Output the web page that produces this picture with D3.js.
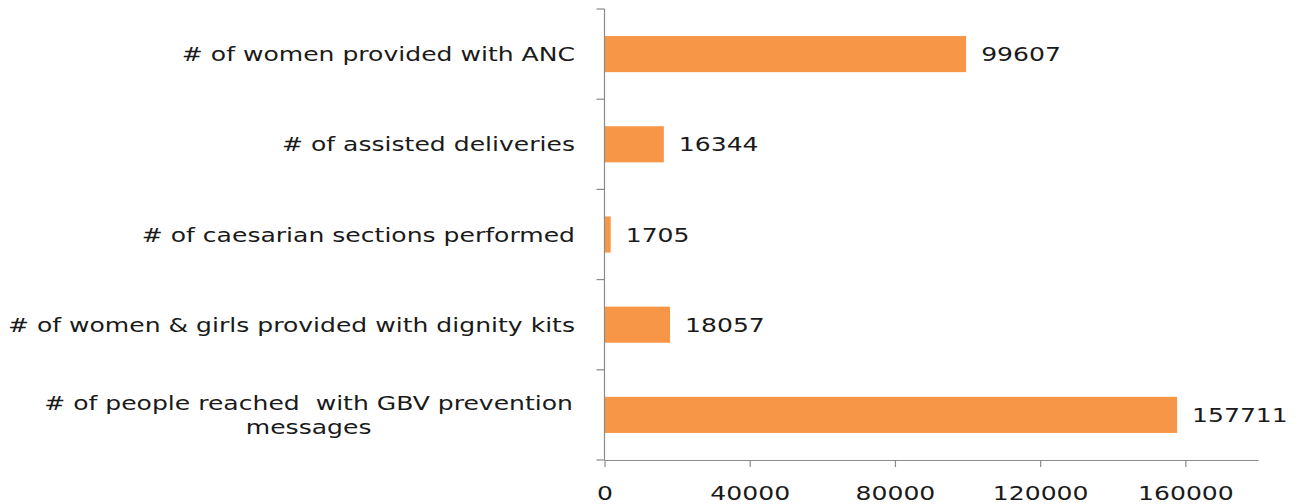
<!DOCTYPE html>
<html>
<head>
<meta charset="utf-8">
<script src="https://cdn.jsdelivr.net/npm/d3@7"></script>
<style>
  html, body { margin: 0; padding: 0; background: #fff; }
  svg { display: block; }
  text { font-family: "DejaVu Sans", sans-serif; fill: #1a1a1a; white-space: pre; }
</style>
</head>
<body>
<svg id="chart" width="1302" height="504"></svg>
<script>
const categories = [
  "# of women provided with ANC",
  "# of assisted deliveries",
  "# of caesarian sections performed",
  "# of women & girls provided with dignity kits",
  "# of people reached  with GBV prevention messages"
];
const categoryLines = [
  ["# of women provided with ANC"],
  ["# of assisted deliveries"],
  ["# of caesarian sections performed"],
  ["# of women & girls provided with dignity kits"],
  ["# of people reached  with GBV prevention", "messages"]
];
const values = [99607, 16344, 1705, 18057, 157711];
const xTicks = [0, 40000, 80000, 120000, 160000];
const xMax = 180000;

(function () {
const svg = d3.select("#chart");
const plotLeft = 604.5, plotRight = 1258, plotTop = 9, plotBottom = 460;
const sx = 1.32;        // horizontal stretch of the text
const fontSize = 19;
const axisColor = "#8a8a8a";
const barColor = "#F79646";

const x = d3.scaleLinear().domain([0, xMax]).range([plotLeft, plotRight]);
const y = d3.scaleBand().domain(categories).range([plotTop, plotBottom])
  .paddingInner(0.6).paddingOuter(0.3);
const step = y.step();

// bars
svg.append("g").selectAll("rect")
  .data(categories)
  .join("rect")
  .attr("x", x(0))
  .attr("y", d => y(d))
  .attr("width", (d, i) => x(values[i]) - x(0))
  .attr("height", y.bandwidth())
  .attr("fill", barColor);

// x axis
const xAxis = svg.append("g")
  .attr("transform", `translate(0,${plotBottom})`)
  .call(d3.axisBottom(x).tickValues(xTicks).tickSize(7).tickSizeOuter(0).tickFormat(d3.format("d")).tickPadding(0));
xAxis.select(".domain").attr("stroke", axisColor).attr("stroke-width", 1.2);
xAxis.selectAll(".tick line").attr("stroke", axisColor).attr("stroke-width", 1.2);
xAxis.selectAll(".tick text")
  .attr("y", 40)
  .attr("dy", 0)
  .attr("font-size", fontSize)
  .attr("font-family", "DejaVu Sans, sans-serif")
  .attr("fill", "#1a1a1a")
  .attr("transform", `scale(${sx},1)`);

// y axis line and band-boundary ticks
const yAxis = svg.append("g");
yAxis.append("line")
  .attr("x1", plotLeft).attr("x2", plotLeft)
  .attr("y1", plotTop).attr("y2", plotBottom)
  .attr("stroke", axisColor).attr("stroke-width", 1.2);
const boundaries = categories.map(c => y(c) - y.paddingInner() * step / 2);
boundaries.push(plotBottom);
yAxis.selectAll("line.tick")
  .data(boundaries)
  .join("line")
  .attr("class", "tick")
  .attr("x1", plotLeft - 8).attr("x2", plotLeft)
  .attr("y1", d => d).attr("y2", d => d)
  .attr("stroke", axisColor).attr("stroke-width", 1.2);

// category labels
categories.forEach((c, i) => {
  const cy = y(c) + y.bandwidth() / 2;
  const lines = categoryLines[i];
  const g = svg.append("g");
  if (lines.length === 1) {
    g.append("text")
      .attr("transform", `translate(575,${cy + 7}) scale(${sx},1)`)
      .attr("text-anchor", "end")
      .attr("font-size", fontSize)
      .text(lines[0]);
  } else {
    const t1 = g.append("text")
      .attr("transform", `translate(573,${cy - 12 + 7}) scale(${sx},1)`)
      .attr("text-anchor", "end")
      .attr("font-size", fontSize)
      .text(lines[0]);
    const w = t1.node().getComputedTextLength() * sx;
    const center = 573 - w / 2;
    g.append("text")
      .attr("transform", `translate(${center},${cy + 12 + 7}) scale(${sx},1)`)
      .attr("text-anchor", "middle")
      .attr("font-size", fontSize)
      .text(lines[1]);
  }
});

// value labels
svg.append("g").selectAll("text")
  .data(categories)
  .join("text")
  .attr("transform", (d, i) => `translate(${x(values[i]) + 15},${y(d) + y.bandwidth() / 2 + 7}) scale(${sx},1)`)
  .attr("font-size", fontSize)
  .text((d, i) => values[i]);
})();
</script>
</body>
</html>
